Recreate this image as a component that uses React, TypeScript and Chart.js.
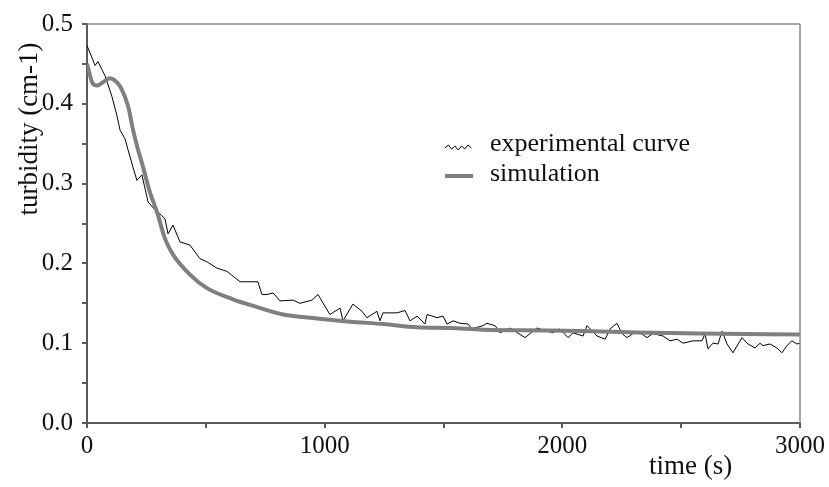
import React, { useEffect, useRef } from "react";
import { Chart, registerables } from "chart.js";

Chart.register(...registerables);

const expTime = [0, 34, 46, 76, 105, 126, 139, 160, 173, 194, 210, 231, 257, 286, 307, 328, 341, 362, 391, 433, 475, 505, 547, 589, 644, 686, 719, 736, 757, 783, 812, 867, 896, 947, 972, 1022, 1065, 1077, 1119, 1157, 1178, 1220, 1233, 1245, 1304, 1338, 1359, 1389, 1422, 1431, 1473, 1498, 1515, 1540, 1569, 1603, 1620, 1666, 1683, 1717, 1738, 1780, 1843, 1893, 1961, 1990, 2024, 2045, 2087, 2104, 2146, 2180, 2201, 2230, 2251, 2272, 2297, 2327, 2356, 2381, 2424, 2453, 2483, 2508, 2550, 2588, 2600, 2613, 2634, 2655, 2672, 2693, 2718, 2756, 2781, 2811, 2832, 2844, 2874, 2903, 2924, 2945, 2966, 2987, 3000];
const expValue = [0.473, 0.448, 0.453, 0.435, 0.409, 0.385, 0.367, 0.356, 0.342, 0.32, 0.304, 0.311, 0.277, 0.267, 0.262, 0.256, 0.237, 0.248, 0.227, 0.223, 0.206, 0.202, 0.194, 0.19, 0.177, 0.177, 0.177, 0.161, 0.161, 0.163, 0.153, 0.154, 0.15, 0.154, 0.161, 0.136, 0.144, 0.128, 0.149, 0.14, 0.132, 0.14, 0.128, 0.138, 0.138, 0.141, 0.128, 0.134, 0.124, 0.136, 0.132, 0.134, 0.124, 0.128, 0.125, 0.124, 0.118, 0.122, 0.125, 0.122, 0.113, 0.119, 0.107, 0.119, 0.113, 0.118, 0.107, 0.113, 0.109, 0.122, 0.109, 0.105, 0.118, 0.125, 0.112, 0.107, 0.112, 0.113, 0.107, 0.112, 0.109, 0.103, 0.105, 0.1, 0.103, 0.103, 0.112, 0.093, 0.1, 0.099, 0.115, 0.099, 0.088, 0.107, 0.099, 0.094, 0.1, 0.097, 0.099, 0.094, 0.088, 0.097, 0.103, 0.099, 0.1];

const simTime = [0, 25, 42, 72, 97, 122, 143, 173, 194, 215, 231, 265, 295, 328, 362, 433, 505, 614, 686, 825, 968, 1107, 1246, 1389, 1527, 1666, 1948, 2243, 2580, 3000];
const simValue = [0.45, 0.425, 0.423, 0.428, 0.432, 0.428, 0.42, 0.397, 0.367, 0.342, 0.326, 0.289, 0.264, 0.231, 0.211, 0.186, 0.169, 0.155, 0.148, 0.136, 0.131, 0.127, 0.124, 0.12, 0.119, 0.117, 0.116, 0.114, 0.112, 0.111];

const xTickLabels = ["0", "1000", "2000", "3000"];
const yTickLabels = ["0.0", "0.1", "0.2", "0.3", "0.4", "0.5"];

const xTitle = "time (s)";
const yTitle = "turbidity (cm-1)";
const legendLabels = ["experimental curve", "simulation"];

const FONT = "'Liberation Serif', 'Times New Roman', serif";
const AXIS_COLOR = "#5a5a5a";
const SIM_COLOR = "#7f7f7f";

const decorPlugin = {
  id: "decor",
  afterDraw(chart: any) {
    const { ctx, chartArea } = chart;
    const { left, right, top, bottom } = chartArea;
    ctx.save();
    // top and right frame
    ctx.strokeStyle = "#8a8a8a";
    ctx.lineWidth = 1.5;
    ctx.beginPath();
    ctx.moveTo(left, top);
    ctx.lineTo(right, top);
    ctx.moveTo(right, top);
    ctx.lineTo(right, bottom);
    ctx.stroke();

    ctx.fillStyle = "#111";
    // x title
    ctx.font = `27px ${FONT}`;
    ctx.textAlign = "left";
    ctx.textBaseline = "middle";
    ctx.fillText(xTitle, left + 562, bottom + 44);
    // y title
    ctx.save();
    ctx.translate(30, top + 105);
    ctx.rotate(-Math.PI / 2);
    ctx.textAlign = "center";
    ctx.textBaseline = "middle";
    ctx.fillText(yTitle, 0, 0);
    ctx.restore();

    // legend
    const lx = left + 358;
    const ly1 = top + 120;
    const ly2 = top + 150;
    ctx.font = `26px ${FONT}`;
    ctx.textAlign = "left";
    ctx.textBaseline = "middle";
    ctx.fillText(legendLabels[0], lx + 45, ly1);
    ctx.fillText(legendLabels[1], lx + 45, ly2);
    // zigzag symbol
    ctx.strokeStyle = "#000";
    ctx.lineWidth = 1;
    ctx.beginPath();
    const zz = [0, 3, -1, 2, -2, 2, -1, 3, 0];
    for (let i = 0; i < zz.length; i++) {
      const px = lx + i * 3.3;
      const py = ly1 + 4 - zz[i];
      if (i === 0) ctx.moveTo(px, py);
      else ctx.lineTo(px, py);
    }
    ctx.stroke();
    ctx.strokeStyle = SIM_COLOR;
    ctx.lineWidth = 4;
    ctx.beginPath();
    ctx.moveTo(lx, ly2 + 2);
    ctx.lineTo(lx + 28, ly2 + 2);
    ctx.stroke();
    ctx.restore();
  },
};

export default function App() {
  const ref = useRef<HTMLCanvasElement | null>(null);
  useEffect(() => {
    document.body.style.margin = "0";
    const canvas = ref.current!;
    const chart = new Chart(canvas, {
      type: "line",
      data: {
        datasets: [
          {
            label: legendLabels[1],
            data: simTime.map((t, i) => ({ x: t, y: simValue[i] })),
            borderColor: SIM_COLOR,
            borderWidth: 4,
            pointRadius: 0,
            cubicInterpolationMode: "monotone",
            fill: false,
          },
          {
            label: legendLabels[0],
            data: expTime.map((t, i) => ({ x: t, y: expValue[i] })),
            borderColor: "#000",
            borderWidth: 1,
            pointRadius: 0,
            tension: 0,
            fill: false,
          },
        ],
      },
      options: {
        animation: false,
        responsive: false,
        maintainAspectRatio: false,
        layout: { padding: { top: 20, right: 29, left: 0, bottom: 0 } },
        plugins: {
          legend: { display: false },
          tooltip: { enabled: false },
          title: { display: false },
        },
        scales: {
          x: {
            type: "linear",
            min: 0,
            max: 3000,
            afterFit(scale: any) {
              scale.height = 64;
            },
            ticks: {
              stepSize: 500,
              autoSkip: false,
              maxRotation: 0,
              padding: 3,
              color: "#111",
              font: { family: FONT, size: 25 },
              callback: (v: any) => (Number(v) % 1000 === 0 ? xTickLabels[Number(v) / 1000] : ""),
            },
            grid: {
              drawOnChartArea: false,
              drawTicks: true,
              tickLength: 5,
              color: AXIS_COLOR,
              lineWidth: 2,
            },
            border: { display: true, color: AXIS_COLOR, width: 2 },
          },
          y: {
            type: "linear",
            min: 0,
            max: 0.5,
            afterFit(scale: any) {
              scale.width = 87;
            },
            ticks: {
              stepSize: 0.05,
              autoSkip: false,
              padding: 9,
              color: "#111",
              font: { family: FONT, size: 25 },
              callback: (v: any) => {
                const k = Math.round(Number(v) * 100);
                return k % 10 === 0 ? yTickLabels[k / 10] : "";
              },
            },
            grid: {
              drawOnChartArea: false,
              drawTicks: true,
              tickLength: 5,
              color: AXIS_COLOR,
              lineWidth: 2,
            },
            border: { display: true, color: AXIS_COLOR, width: 2 },
          },
        },
      },
      plugins: [decorPlugin],
    });
    return () => chart.destroy();
  }, []);
  return <canvas ref={ref} width={829} height={487} style={{ display: "block", width: 829, height: 487 }} />;
}
